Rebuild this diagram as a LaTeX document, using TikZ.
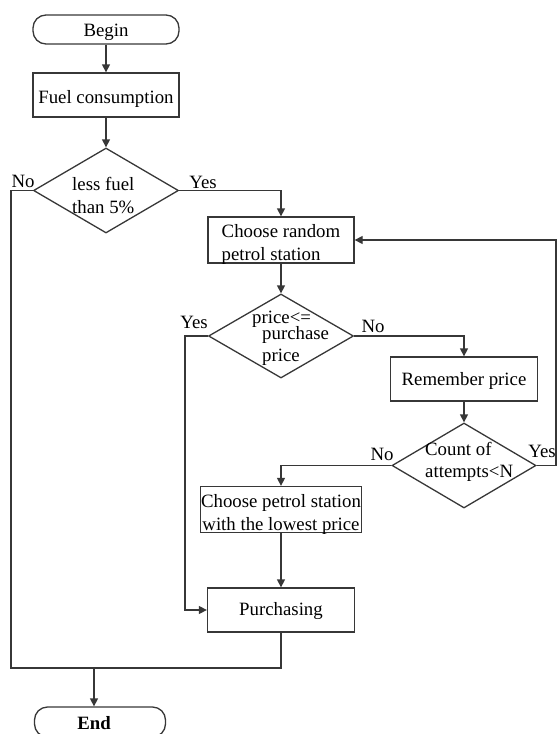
\documentclass[tikz,border=0pt]{standalone}
\usepackage{fontspec}
\setmainfont{Liberation Serif}
\usetikzlibrary{shapes.geometric,arrows.meta,calc}
\definecolor{lc}{RGB}{55,55,55}
\newcommand{\fs}{\fontsize{18.8}{23}\selectfont}
\newcommand{\dn}[2]{\raisebox{-#1}[\height][\depth]{#2}}
\newcommand{\two}[2]{\begin{tabular}{@{}c@{}}#1\\#2\end{tabular}}
\tikzset{
  line/.style={draw=lc, line width=1.3pt},
  arr/.style={line, -{Triangle[length=8pt,width=8pt]}},
  box/.style={draw=lc, line width=1.3pt, rectangle, inner sep=0pt, align=center, font=\fs},
  term/.style={box, rounded corners=13pt},
  dia/.style={draw=lc, line width=1.3pt, diamond, inner sep=0pt},
  txt/.style={inner sep=0pt, anchor=base west, font=\fs},
  lbl/.style={inner sep=0pt, anchor=base, font=\fs},
}
\begin{document}
\begin{tikzpicture}[x=1pt,y=-1pt]
\useasboundingbox (0,0) rectangle (558,734);
% nodes
\node[term, minimum width=146pt, minimum height=29pt] (begin) at (106,29.5) {\dn{3pt}{Begin}};
\node[box, minimum width=146pt, minimum height=44pt] (fuel) at (106,95) {\dn{3.5pt}{Fuel consumption}};
\node[dia, minimum width=145pt, minimum height=85pt] (d1) at (106,190.5) {};
\node[txt] (d1a) at (72,190) {less fuel};
\node[txt] (d1b) at (72,213) {than 5\%};
\node[box, minimum width=146pt, minimum height=44pt] (rand) at (281,240) {\dn{4pt}{\begin{tabular}{@{}l@{}}Choose random\\petrol station\end{tabular}}};
\node[dia, minimum width=145pt, minimum height=84pt] (d2) at (281,336) {};
\node[txt] (d2a) at (252,323) {price<=};
\node[txt] (d2b) at (262,339) {purchase};
\node[txt] (d2c) at (262,361) {price};
\node[box, minimum width=147pt, minimum height=44pt] (rem) at (464,379) {\dn{1.5pt}{Remember price}};
\node[dia, minimum width=144pt, minimum height=85pt] (d3) at (464,465.5) {};
\node[txt] (d3a) at (425,455) {Count of};
\node[txt] (d3b) at (425,477) {attempts<N};
\node[box, minimum width=161pt, minimum height=45pt] (low) at (281,509.5) {\dn{5pt}{\two{Choose petrol station}{with the lowest price}}};
\node[box, minimum width=147pt, minimum height=44pt] (purch) at (281,610) {\dn{1pt}{Purchasing}};
\node[term, minimum width=131pt, minimum height=30pt] (end) at (100,722) {\dn{1pt}{\hspace*{-12pt}\textbf{End}}};
% branch labels
\node[lbl] (n1) at (23,187) {No};
\node[lbl] (y1) at (203,188) {Yes};
\node[lbl] (y2) at (194,328) {Yes};
\node[lbl] (n2) at (373,332) {No};
\node[lbl] (n3) at (382,460) {No};
\node[lbl] (y3) at (542,457) {Yes};
% helper coordinates
\coordinate (cr) at (556,465.5);
\coordinate (cl) at (185,336);
\coordinate (cb) at (11,668);
\coordinate (je) at (94,668);
% connectors
\draw[arr] (begin) -- (fuel);
\draw[arr] (fuel) -- (d1);
\draw[arr] (d1.east) -| (rand.north);
\draw[arr] (rand) -- (d2);
\draw[arr] (d2.east) -| (rem.north);
\draw[arr] (rem) -- (d3);
\draw[arr] (d3.west) -| (low.north);
\draw[arr] (low) -- (purch);
\draw[arr] (d3.east) -- (cr) |- (rand.east);
\draw[arr] (d2.west) -- (cl) |- (purch.west);
\draw[line] (d1.west) -| (cb) -- (purch.south |- cb) -- (purch.south);
\draw[arr] (je) -- (je |- end.north);
\end{tikzpicture}
\end{document}
